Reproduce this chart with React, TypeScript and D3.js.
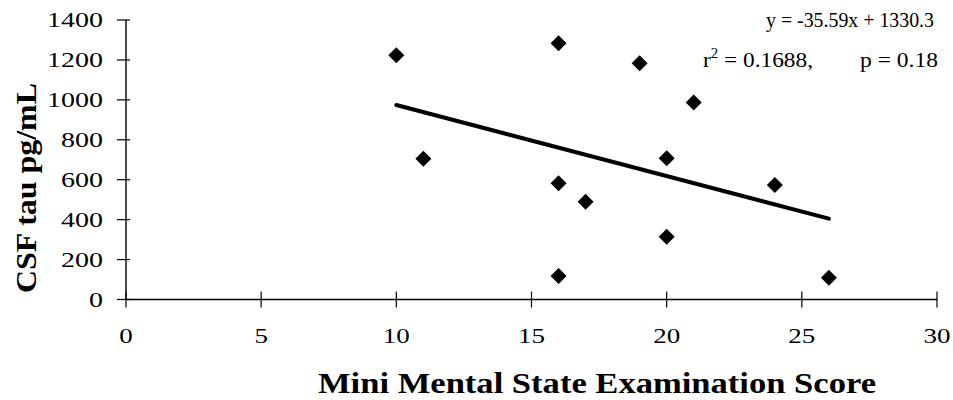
import React from "react";
import * as d3 from "d3";

// MMSE score vs CSF tau
const mmse = [10, 11, 16, 16, 16, 17, 19, 20, 20, 21, 24, 26];
const tau = [1223, 705, 1283, 582, 118, 490, 1183, 707, 314, 987, 573, 109];

const xTicks = [0, 5, 10, 15, 20, 25, 30];
const yTicks = [0, 200, 400, 600, 800, 1000, 1200, 1400];

const slope = -35.59;
const intercept = 1330.3;
const fitRange = [10, 26];

const serif = "'Liberation Serif', 'Times New Roman', serif";

const App = () => {
  const x = d3.scaleLinear().domain([0, 30]).range([126, 937]);
  const y = d3.scaleLinear().domain([0, 1400]).range([299.5, 20]);

  const fit = d3
    .line<number>()
    .x((d) => x(d))
    .y((d) => y(slope * d + intercept));

  const diamond = d3.symbol().type(d3.symbolSquare).size(128)();

  return (
    <svg width={953} height={400} style={{ position: "absolute", left: 0, top: 0, background: "#fff" }}>
      {/* axes */}
      <line x1={x(0)} x2={x(30)} y1={y(0)} y2={y(0)} stroke="#000" strokeWidth={1.4} />
      <line x1={x(0)} x2={x(0)} y1={y(0)} y2={y(1400)} stroke="#000" strokeWidth={1.4} />

      {xTicks.map((t) => (
        <g key={"x" + t}>
          <line x1={x(t)} x2={x(t)} y1={y(0) - 8} y2={y(0) + 8} stroke="#000" strokeWidth={1.2} />
          <text
            x={x(t)}
            y={343}
            textAnchor="middle"
            fontFamily={serif}
            fontSize={21}
            textLength={String(t).length * 13.5}
            lengthAdjust="spacingAndGlyphs"
          >
            {t}
          </text>
        </g>
      ))}

      {yTicks.map((t) => (
        <g key={"y" + t}>
          <line x1={x(0) - 9} x2={x(0) + 4} y1={y(t)} y2={y(t)} stroke="#000" strokeWidth={1.2} />
          <text
            x={103}
            y={y(t) + 7}
            textAnchor="end"
            fontFamily={serif}
            fontSize={21}
            textLength={String(t).length * 14}
            lengthAdjust="spacingAndGlyphs"
          >
            {t}
          </text>
        </g>
      ))}

      {/* regression line */}
      <path d={fit(fitRange) || ""} fill="none" stroke="#000" strokeWidth={4} strokeLinecap="round" />

      {/* points */}
      {mmse.map((m, i) => (
        <path
          key={i}
          d={diamond || ""}
          transform={`translate(${x(m)},${y(tau[i])}) rotate(45)`}
          fill="#000"
        />
      ))}

      {/* equation */}
      <text
        x={934}
        y={27}
        textAnchor="end"
        fontFamily={serif}
        fontSize={22}
        textLength={168}
        lengthAdjust="spacingAndGlyphs"
      >
        y = -35.59x + 1330.3
      </text>
      <text
        x={703}
        y={67}
        fontFamily={serif}
        fontSize={22}
        textLength={110}
        lengthAdjust="spacingAndGlyphs"
      >
        r<tspan fontSize={14} dy={-9}>2</tspan>
        <tspan dy={9}>{" = 0.1688,"}</tspan>
      </text>
      <text
        x={938}
        y={67}
        textAnchor="end"
        fontFamily={serif}
        fontSize={22}
        textLength={78}
        lengthAdjust="spacingAndGlyphs"
      >
        p = 0.18
      </text>

      {/* axis titles */}
      <text
        x={597}
        y={393}
        textAnchor="middle"
        fontFamily={serif}
        fontWeight="bold"
        fontSize={30}
        textLength={558}
        lengthAdjust="spacingAndGlyphs"
      >
        Mini Mental State Examination Score
      </text>
      <text
        transform="translate(36,188) rotate(-90)"
        textAnchor="middle"
        fontFamily={serif}
        fontWeight="bold"
        fontSize={30}
        textLength={210}
        lengthAdjust="spacingAndGlyphs"
      >
        CSF tau pg/mL
      </text>
    </svg>
  );
};

export default App;
